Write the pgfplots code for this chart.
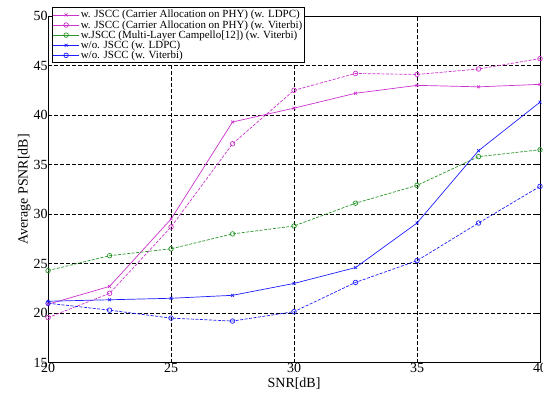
\documentclass[border=0pt]{standalone}
\usepackage{pgfplots}
\pgfplotsset{compat=1.18}
\usepackage{fontspec}
\setmainfont{Liberation Serif}
\definecolor{mag}{RGB}{204,51,204}
\definecolor{grn}{RGB}{40,150,40}
\definecolor{blu}{RGB}{30,30,255}
\begin{document}
\begin{tikzpicture}
\begin{axis}[
  scale only axis,
  width=491bp, height=346bp,
  xmin=20, xmax=40, ymin=15, ymax=50,
  xtick={20,25,30,35,40}, ytick={15,20,25,30,35,40,45,50},
  grid=major,
  major grid style={black, dash pattern=on 4pt off 2pt, line width=0.6pt},
  axis line style={black, line width=0.9pt},
  tick style={black, line width=0.6pt},
  major tick length=4pt,
  tick align=inside,
  /pgf/number format/assume math mode=true,
  ticklabel style={font=\fontsize{14}{15}\selectfont},
  xticklabel style={yshift=3pt},
  yticklabel style={xshift=3pt},
  xlabel={SNR[dB]}, ylabel={Average PSNR[dB]},
  label style={font=\fontsize{14}{15}\selectfont},
  xlabel style={yshift=2pt},
  ylabel style={yshift=-4pt},
  legend style={at={(rel axis cs:0.008,1.025)}, anchor=north west,
    font=\fontsize{11}{12}\selectfont, draw=black, line width=0.9pt,
    row sep=-3pt, inner sep=1pt, outer sep=0pt, fill=white,
    nodes={inner xsep=1.5pt}},
  legend cell align=left,
  legend image code/.code={
    \draw[mark repeat=2,mark phase=2,#1,solid]
      plot coordinates {(-0.05cm,0cm) (0.4cm,0cm) (0.85cm,0cm)};},
  every axis plot/.append style={line width=0.7pt},
  vit/.style={dash pattern=on 3pt off 1.5pt, mark=o, mark size=2.3pt, mark options={solid}},
]
\addplot[mag, mark=x, mark size=2pt] coordinates {
(20,20.9) (22.5,22.7) (25,29.5) (27.5,39.3) (30,40.7) (32.5,42.2) (35,43.0) (37.5,42.85) (40,43.1)};
\addlegendentry{w. JSCC (Carrier Allocation on PHY) (w. LDPC)}
\addplot[mag, vit] coordinates {
(20,19.55) (22.5,22.0) (25,28.7) (27.5,37.1) (30,42.5) (32.5,44.2) (35,44.1) (37.5,44.65) (40,45.7)};
\addlegendentry{w. JSCC (Carrier Allocation on PHY) (w. Viterbi)}
\addplot[grn, vit] coordinates {
(20,24.3) (22.5,25.8) (25,26.5) (27.5,28.0) (30,28.8) (32.5,31.1) (35,32.9) (37.5,35.8) (40,36.5)};
\addlegendentry{w.JSCC (Multi-Layer Campello[12]) (w. Viterbi)}
\addplot[blu, mark=x, mark size=2pt] coordinates {
(20,21.2) (22.5,21.35) (25,21.5) (27.5,21.8) (30,23.0) (32.5,24.6) (35,29.1) (37.5,36.4) (40,41.3)};
\addlegendentry{w/o. JSCC (w. LDPC)}
\addplot[blu, vit] coordinates {
(20,21.0) (22.5,20.3) (25,19.5) (27.5,19.2) (30,20.15) (32.5,23.1) (35,25.3) (37.5,29.1) (40,32.8)};
\addlegendentry{w/o. JSCC (w. Viterbi)}
\end{axis}
\pgfresetboundingbox
\path[use as bounding box] ([xshift=-48bp,yshift=-35bp]current axis.south west) rectangle ([xshift=3bp,yshift=16bp]current axis.north east);
\end{tikzpicture}
\end{document}
